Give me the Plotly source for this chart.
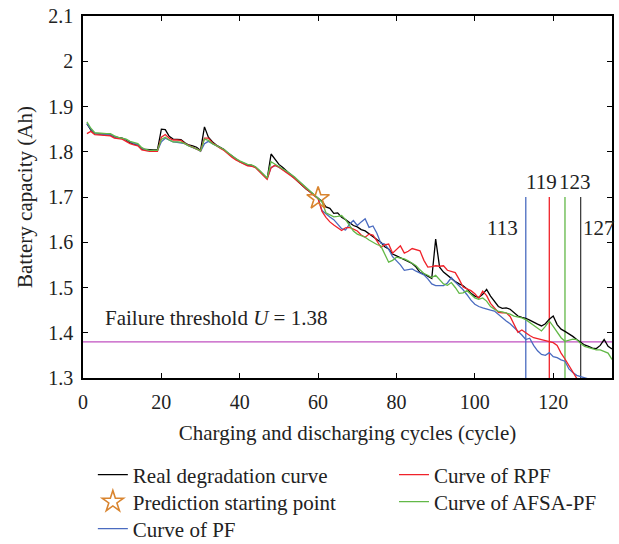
import plotly.graph_objects as go

FONT = "Liberation Serif"

# ---------------- data ----------------
real_x = list(range(1, 136))
real_y = [1.862, 1.848, 1.840, 1.839, 1.838, 1.838, 1.837, 1.833, 1.831, 1.830,
          1.826, 1.820, 1.817, 1.815, 1.806, 1.805, 1.804, 1.804, 1.804, 1.850,
          1.849, 1.834, 1.828, 1.828, 1.827, 1.820, 1.815, 1.813, 1.810, 1.803,
          1.855, 1.832, 1.822, 1.815, 1.810, 1.805, 1.797, 1.790, 1.783, 1.778,
          1.774, 1.770, 1.770, 1.766, 1.758, 1.748, 1.740, 1.795, 1.783, 1.772,
          1.765, 1.757, 1.750, 1.741, 1.733, 1.724, 1.717, 1.711, 1.703, 1.697,
          1.690, 1.678, 1.675, 1.664, 1.665, 1.655, 1.650, 1.643, 1.637, 1.634,
          1.628, 1.625, 1.618, 1.611, 1.606, 1.600, 1.590, 1.585, 1.574, 1.570,
          1.566, 1.561, 1.557, 1.553, 1.545, 1.533, 1.530, 1.524, 1.520, 1.607,
          1.545, 1.534, 1.527, 1.518, 1.513, 1.508, 1.504, 1.497, 1.487, 1.481,
          1.478, 1.485, 1.496, 1.481, 1.470, 1.458, 1.454, 1.455, 1.452, 1.445,
          1.437, 1.434, 1.432, 1.428, 1.423, 1.419, 1.415, 1.420, 1.430, 1.437,
          1.418, 1.408, 1.403, 1.398, 1.392, 1.385, 1.379, 1.373, 1.370, 1.366,
          1.365, 1.372, 1.385, 1.370, 1.364]

pf_x = list(range(1, 131))
pf_y = [1.862, 1.850, 1.841, 1.839, 1.838, 1.838, 1.838, 1.834, 1.830, 1.829,
        1.827, 1.822, 1.818, 1.816, 1.808, 1.803, 1.802, 1.802, 1.802, 1.822,
        1.830, 1.826, 1.822, 1.821, 1.820, 1.818, 1.813, 1.810, 1.806, 1.801,
        1.818, 1.823, 1.818, 1.813, 1.809, 1.804, 1.797, 1.790, 1.784, 1.779,
        1.775, 1.771, 1.770, 1.766, 1.758, 1.749, 1.741, 1.765, 1.770, 1.766,
        1.761, 1.756, 1.750, 1.743, 1.735, 1.727, 1.719, 1.712, 1.704, 1.697,
        1.670, 1.662, 1.656, 1.650, 1.640, 1.630, 1.627, 1.640, 1.648, 1.637,
        1.645, 1.652, 1.633, 1.636, 1.620, 1.598, 1.596, 1.585, 1.568, 1.560,
        1.550, 1.538, 1.540, 1.541, 1.536, 1.532, 1.528, 1.519, 1.508, 1.504,
        1.504, 1.504, 1.510, 1.522, 1.512, 1.504, 1.495, 1.484, 1.472, 1.463,
        1.458, 1.455, 1.452, 1.450, 1.448, 1.440, 1.432, 1.426, 1.420, 1.412,
        1.405, 1.395, 1.385, 1.388, 1.372, 1.360, 1.352, 1.350, 1.356, 1.347,
        1.345, 1.340, 1.337, 1.320, 1.312, 1.306, 1.303, 1.300, 1.298, 1.292]

rpf_x = list(range(1, 128))
rpf_y = [1.840, 1.845, 1.838, 1.837, 1.836, 1.836, 1.835, 1.830, 1.829, 1.828,
         1.823, 1.818, 1.815, 1.813, 1.804, 1.802, 1.801, 1.801, 1.801, 1.832,
         1.838, 1.830, 1.826, 1.826, 1.825, 1.818, 1.814, 1.811, 1.807, 1.802,
         1.830, 1.830, 1.820, 1.813, 1.808, 1.803, 1.795, 1.788, 1.782, 1.777,
         1.773, 1.769, 1.768, 1.765, 1.757, 1.747, 1.739, 1.765, 1.770, 1.766,
         1.760, 1.754, 1.748, 1.741, 1.733, 1.725, 1.717, 1.710, 1.703, 1.696,
         1.668, 1.655, 1.645, 1.638, 1.632, 1.626, 1.632, 1.633, 1.629, 1.625,
         1.616, 1.611, 1.618, 1.616, 1.603, 1.589, 1.594, 1.596, 1.576, 1.584,
         1.592, 1.576, 1.580, 1.586, 1.583, 1.581, 1.560, 1.545, 1.546, 1.548,
         1.547, 1.548, 1.538, 1.535, 1.533, 1.518, 1.501, 1.497, 1.493, 1.486,
         1.476, 1.492, 1.482, 1.465, 1.455, 1.445, 1.444, 1.444, 1.436, 1.420,
         1.401, 1.406, 1.399, 1.394, 1.389, 1.387, 1.385, 1.382, 1.380, 1.378,
         1.372, 1.355, 1.342, 1.328, 1.312, 1.298, 1.285]

afsa_x = list(range(1, 136))
afsa_y = [1.866, 1.852, 1.842, 1.841, 1.840, 1.840, 1.840, 1.835, 1.832, 1.830,
          1.828, 1.823, 1.820, 1.818, 1.809, 1.805, 1.803, 1.803, 1.803, 1.827,
          1.832, 1.826, 1.822, 1.822, 1.821, 1.818, 1.813, 1.810, 1.806, 1.802,
          1.828, 1.825, 1.818, 1.814, 1.810, 1.805, 1.798, 1.791, 1.785, 1.780,
          1.776, 1.772, 1.771, 1.767, 1.759, 1.750, 1.742, 1.778, 1.772, 1.768,
          1.762, 1.757, 1.751, 1.744, 1.736, 1.728, 1.720, 1.713, 1.705, 1.697,
          1.689, 1.665, 1.660, 1.656, 1.657, 1.659, 1.650, 1.638, 1.625, 1.618,
          1.614, 1.611, 1.605, 1.600, 1.595, 1.592, 1.575, 1.556, 1.560, 1.567,
          1.565, 1.563, 1.559, 1.553, 1.548, 1.539, 1.531, 1.527, 1.522, 1.527,
          1.518, 1.508, 1.505, 1.511, 1.500, 1.487, 1.488, 1.493, 1.485, 1.477,
          1.474, 1.477, 1.470, 1.458, 1.452, 1.447, 1.446, 1.444, 1.441, 1.437,
          1.435, 1.433, 1.429, 1.423, 1.418, 1.411, 1.404, 1.414, 1.426, 1.414,
          1.400, 1.389, 1.381, 1.383, 1.386, 1.385, 1.376, 1.370, 1.367, 1.364,
          1.362, 1.362, 1.358, 1.355, 1.341]

start_x = [60]
start_y = [1.697]

threshold = 1.38
threshold_x = [0, 135]

rul_cycles = [113, 119, 123, 127]          # PF, RPF, AFSA-PF, real
rul_top = 1.70
rul_labels = ["113", "119", "123", "127"]

x_ticks = [0, 20, 40, 60, 80, 100, 120]
y_ticks = [1.3, 1.4, 1.5, 1.6, 1.7, 1.8, 1.9, 2.0, 2.1]
y_tick_text = ["1.3", "1.4", "1.5", "1.6", "1.7", "1.8", "1.9", "2", "2.1"]

C_REAL = "#000000"
C_PF = "#4a6bc0"
C_RPF = "#f0222a"
C_AFSA = "#62b847"
C_STAR = "#d98530"
C_THR = "#c050c0"
C_RUL_REAL = "#404040"

fig = go.Figure()

# threshold
fig.add_trace(go.Scatter(x=threshold_x, y=[threshold, threshold], mode="lines",
                         line=dict(color=C_THR, width=1.3), showlegend=False,
                         hoverinfo="skip"))

# RUL vertical lines
for c, col in zip(rul_cycles, [C_PF, C_RPF, C_AFSA, C_RUL_REAL]):
    fig.add_trace(go.Scatter(x=[c, c], y=[1.3, rul_top], mode="lines",
                             line=dict(color=col, width=1.3), showlegend=False,
                             hoverinfo="skip"))

fig.add_trace(go.Scatter(x=real_x, y=real_y, mode="lines", name="Real degradation curve",
                         line=dict(color=C_REAL, width=1.3), legend="legend"))
fig.add_trace(go.Scatter(x=pf_x, y=pf_y, mode="lines", name="Curve of PF",
                         line=dict(color=C_PF, width=1.3), legend="legend5"))
fig.add_trace(go.Scatter(x=rpf_x, y=rpf_y, mode="lines", name="Curve of RPF",
                         line=dict(color=C_RPF, width=1.3), legend="legend2"))
fig.add_trace(go.Scatter(x=afsa_x, y=afsa_y, mode="lines", name="Curve of AFSA-PF",
                         line=dict(color=C_AFSA, width=1.3), legend="legend4"))
fig.add_trace(go.Scatter(x=start_x, y=start_y, mode="markers", name="Prediction starting point",
                         marker=dict(symbol="star-open", size=17, color=C_STAR,
                                     line=dict(color=C_STAR, width=1.6)),
                         legend="legend3"))

tf = dict(family=FONT, size=20, color="#222222")
lf = dict(family=FONT, size=21, color="#222222")


def leg(x, y):
    return dict(x=x, y=y, xref="container", yref="container", xanchor="left",
                yanchor="middle", font=lf, bgcolor="rgba(0,0,0,0)")


annotations = [
    dict(x=5.2, y=1.432, xref="x", yref="y", text="Failure threshold <i>U</i> = 1.38",
         showarrow=False, xanchor="left", yanchor="middle", font=lf),
    dict(x=111.6, y=1.631, xref="x", yref="y", text=rul_labels[0],
         showarrow=False, xanchor="right", yanchor="middle", font=lf),
    dict(x=121.2, y=1.734, xref="x", yref="y", text=rul_labels[1],
         showarrow=False, xanchor="right", yanchor="middle", font=lf, borderpad=0),
    dict(x=121.2, y=1.734, xref="x", yref="y", text=rul_labels[2],
         showarrow=False, xanchor="left", yanchor="middle", font=lf, borderpad=0),
    dict(x=127.0, y=1.631, xref="x", yref="y", text=rul_labels[3],
         showarrow=False, xanchor="left", yanchor="middle", font=lf),
    # y axis title (centre ~25 px from the left edge; paper x=0 is at 83 px)
    dict(x=0, y=0.5, xref="paper", yref="paper", xshift=25 - 83,
         text="Battery capacity (Ah)", textangle=-90, showarrow=False,
         xanchor="center", yanchor="middle", font=lf),
]

axis_common = dict(showline=True, linecolor="#000000", linewidth=1.5, mirror="ticks",
                   ticks="inside", ticklen=5, tickcolor="#000000", tickwidth=1.2,
                   showgrid=False, zeroline=False, tickfont=tf)

fig.update_layout(
    width=619, height=544,
    margin=dict(l=83, r=7, t=16, b=166, autoexpand=False),
    paper_bgcolor="white", plot_bgcolor="white",
    font=tf,
    xaxis=dict(range=[0, 135], tickvals=x_ticks, ticktext=[str(v) for v in x_ticks],
               ticklabelstandoff=5,
               title=dict(text="Charging and discharging cycles (cycle)", font=lf, standoff=14),
               **axis_common),
    yaxis=dict(range=[1.3, 2.1], tickvals=y_ticks, ticktext=y_tick_text,
               ticklabelstandoff=4,
               **axis_common),
    legend=leg(0.150, 1 - 475 / 544),
    legend2=leg(0.6365, 1 - 475 / 544),
    legend3=leg(0.150, 1 - 502 / 544),
    legend4=leg(0.6365, 1 - 502 / 544),
    legend5=leg(0.150, 1 - 529 / 544),
    annotations=annotations,
    showlegend=True,
)

fig.write_html("out.html")
